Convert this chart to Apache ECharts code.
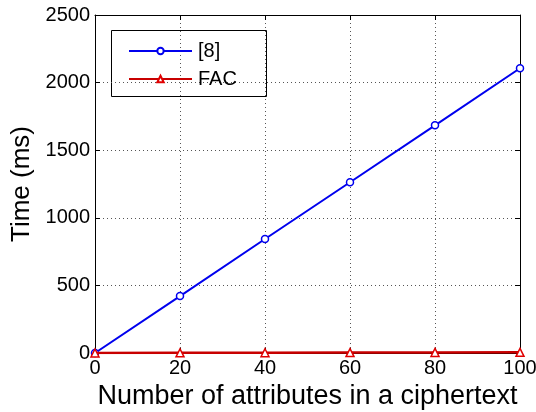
<!DOCTYPE html>
<html>
<head>
<meta charset="utf-8">
<script src="https://cdn.jsdelivr.net/npm/echarts@6/dist/echarts.min.js"></script>
<style>
html,body{margin:0;padding:0;background:#fff;}
#chart{width:536px;height:412px;}
</style>
</head>
<body>
<div id="chart"></div>
<script>
// Number of attributes in the ciphertext
var attributes = [0, 20, 40, 60, 80, 100];
// Decryption time (ms) per scheme
var timeRef8 = [0, 421, 843, 1263, 1684, 2106];
var timeFAC = [0, 1, 2, 3, 4, 5];
var yTicks = [0, 500, 1000, 1500, 2000, 2500];
var xTicks = [0, 20, 40, 60, 80, 100];

var font = 'Liberation Sans, Arial, sans-serif';
var chart = echarts.init(document.getElementById('chart'));

var gridLine = {show: true, lineStyle: {color: '#555', type: [1, 3], width: 1}};
var axisBox = {show: true, onZero: false, lineStyle: {color: '#000', width: 1}};
var tickIn = {show: true, inside: true, length: 5, lineStyle: {color: '#000'}};
var plain = function (v) { return String(v); };

chart.setOption({
  animation: false,
  backgroundColor: '#fff',
  grid: {left: 95, right: 16, top: 15, bottom: 59, containLabel: false, outerBoundsMode: 'none'},
  xAxis: [{
    type: 'value', min: xTicks[0], max: xTicks[xTicks.length - 1], interval: 20,
    name: 'Number of attributes in a ciphertext', nameLocation: 'middle', nameGap: 26,
    nameTextStyle: {fontFamily: font, fontSize: 27, color: '#000'},
    axisLine: axisBox, axisTick: tickIn, splitLine: gridLine,
    axisLabel: {fontFamily: font, fontSize: 20, color: '#000', margin: 5, formatter: plain}
  }, {
    type: 'value', position: 'top', min: xTicks[0], max: xTicks[xTicks.length - 1], interval: 20,
    axisLine: axisBox, axisTick: tickIn, axisLabel: {show: false}, splitLine: {show: false}
  }],
  yAxis: [{
    type: 'value', min: yTicks[0], max: yTicks[yTicks.length - 1], interval: 500,
    name: 'Time (ms)', nameLocation: 'middle', nameGap: 57, nameRotate: 90,
    nameTextStyle: {fontFamily: font, fontSize: 26, color: '#000'},
    axisLine: axisBox, axisTick: tickIn, splitLine: gridLine,
    axisLabel: {fontFamily: font, fontSize: 20, color: '#000', margin: 5, formatter: plain}
  }, {
    type: 'value', position: 'right', min: yTicks[0], max: yTicks[yTicks.length - 1], interval: 500,
    axisLine: axisBox, axisTick: tickIn, axisLabel: {show: false}, splitLine: {show: false}
  }],
  legend: {
    orient: 'vertical', left: 123, top: 36, itemWidth: 63, itemHeight: 8, itemGap: 8,
    textStyle: {fontFamily: font, fontSize: 20, color: '#000', padding: [0, 0, 0, 1]},
    data: ['[8]', 'FAC']
  },
  graphic: [{
    type: 'rect', left: 111, top: 30, z: 0,
    shape: {width: 155, height: 66},
    style: {fill: '#fff', stroke: '#000', lineWidth: 1}
  }],
  series: [{
    name: '[8]', type: 'line', z: 3,
    data: attributes.map(function (a, i) { return [a, timeRef8[i]]; }),
    symbol: 'circle', symbolSize: 7,
    lineStyle: {color: '#0000ee', width: 2},
    itemStyle: {color: '#fff', borderColor: '#0000ee', borderWidth: 1.5}
  }, {
    name: 'FAC', type: 'line', z: 4,
    data: attributes.map(function (a, i) { return [a, timeFAC[i]]; }),
    symbol: 'triangle', symbolSize: 8,
    lineStyle: {color: '#c80000', width: 2.5},
    itemStyle: {color: '#fff', borderColor: '#e00000', borderWidth: 1.5}
  }]
});
</script>
</body>
</html>
